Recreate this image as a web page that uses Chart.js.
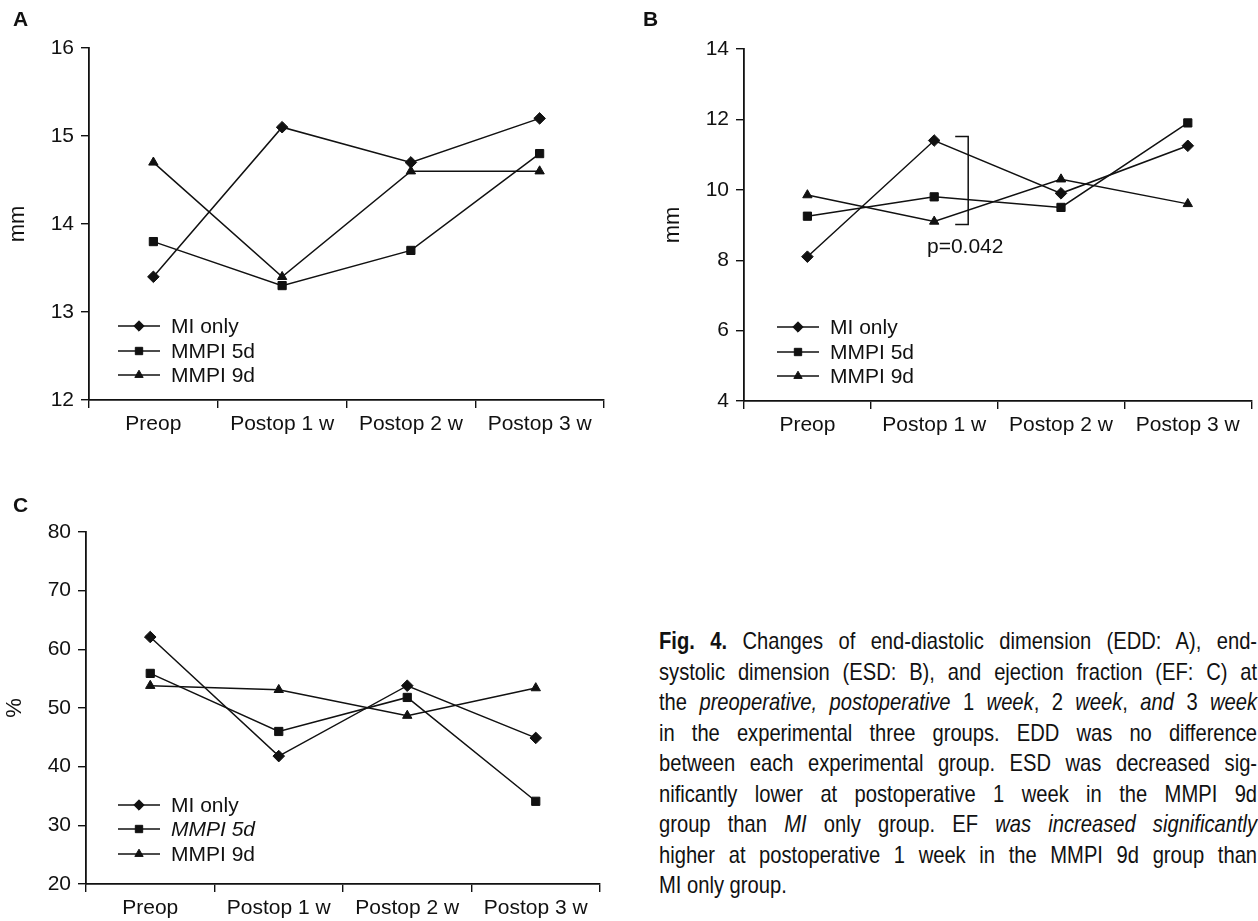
<!DOCTYPE html>
<html>
<head>
<meta charset="utf-8">
<script src="https://cdn.jsdelivr.net/npm/chart.js@4.4.1/dist/chart.umd.min.js"></script>
<style>
  html, body { margin: 0; padding: 0; background: #fff; }
  body { width: 1258px; height: 921px; position: relative; overflow: hidden; }
  canvas { position: absolute; }
  #caption {
    position: absolute; left: 659px; top: 626px; width: 598px;
    font-family: "Liberation Sans", Arial, Helvetica, sans-serif;
    font-size: 24px; line-height: 30.5px; color: #111;
  }
  /* narrow setting: each line is laid out wide, then compressed horizontally */
  #caption div {
    width: 712px; transform: scaleX(0.84); transform-origin: 0 0;
    text-align: justify; text-align-last: justify; white-space: nowrap;
  }
  #caption div.last { text-align-last: left; }
</style>
</head>
<body>
<canvas id="chartA" width="630" height="460" style="left:0;top:0;width:630px;height:460px"></canvas>
<canvas id="chartB" width="628" height="460" style="left:630px;top:0;width:628px;height:460px"></canvas>
<canvas id="chartC" width="630" height="461" style="left:0;top:460px;width:630px;height:461px"></canvas>

<div id="caption">
  <div><b>Fig. 4.</b> Changes of end-diastolic dimension (EDD: A), end-</div>
  <div>systolic dimension (ESD: B), and ejection fraction (EF: C) at</div>
  <div>the <i>preoperative, postoperative</i> 1 <i>week</i>, 2 <i>week</i>, <i>and</i> 3 <i>week</i></div>
  <div>in the experimental three groups. EDD was no difference</div>
  <div>between each experimental group. ESD was decreased sig-</div>
  <div>nificantly lower at postoperative 1 week in the MMPI 9d</div>
  <div>group than <i>MI</i> only group. EF <i>was increased significantly</i></div>
  <div>higher at postoperative 1 week in the MMPI 9d group than</div>
  <div class="last">MI only group.</div>
</div>

<script>
// Time points and groups
const categories = ['Preop', 'Postop 1 w', 'Postop 2 w', 'Postop 3 w'];
const groupNames = ['MI only', 'MMPI 5d', 'MMPI 9d'];

// A: end-diastolic dimension (mm)
const eddMiOnly = [13.4, 15.1, 14.7, 15.2];
const eddMmpi5d = [13.8, 13.3, 13.7, 14.8];
const eddMmpi9d = [14.7, 13.4, 14.6, 14.6];

// B: end-systolic dimension (mm)
const esdMiOnly = [8.1, 11.4, 9.9, 11.25];
const esdMmpi5d = [9.25, 9.8, 9.5, 11.9];
const esdMmpi9d = [9.85, 9.1, 10.3, 9.6];
const esdPValue = 'p=0.042';

// C: ejection fraction (%)
const efMiOnly = [62.1, 41.8, 53.8, 44.9];
const efMmpi5d = [55.9, 46.0, 51.8, 34.1];
const efMmpi9d = [53.8, 53.1, 48.7, 53.4];

// Axis ranges
const eddAxis = { min: 12, max: 16, step: 1 };
const esdAxis = { min: 4, max: 14, step: 2 };
const efAxis = { min: 20, max: 80, step: 10 };

const INK = '#111';
const FONT = '"Liberation Sans", Arial, Helvetica, sans-serif';
const markerStyles = ['rectRot', 'rect', 'triangle'];
const markerRadii = [5.8, 5.8, 5.4];

function makeDatasets(series) {
  return series.map((values, i) => ({
    label: groupNames[i],
    data: values,
    borderColor: INK,
    borderWidth: 1.5,
    backgroundColor: INK,
    pointStyle: markerStyles[i],
    pointRadius: markerRadii[i],
    pointBackgroundColor: INK,
    pointBorderColor: INK,
    pointBorderWidth: 1,
    tension: 0,
    fill: false
  }));
}

// Panel letter, in-plot legend and the optional significance bracket
const panelDecor = {
  id: 'panelDecor',
  afterDraw(chart, args, o) {
    const { ctx, chartArea: a } = chart;
    ctx.save();
    ctx.fillStyle = INK;
    ctx.strokeStyle = INK;

    ctx.font = 'bold 21px ' + FONT;
    ctx.textAlign = 'left';
    ctx.textBaseline = 'middle';
    ctx.fillText(o.letter, o.letterX, o.letterY);

    chart.data.datasets.forEach((ds, i) => {
      const y = a.bottom - o.legendRows[i];
      const x0 = a.left + o.legendDx;
      const x1 = x0 + 42;
      ctx.lineWidth = ds.borderWidth;
      ctx.beginPath();
      ctx.moveTo(x0, y);
      ctx.lineTo(x1, y);
      ctx.stroke();
      ctx.lineWidth = 1;
      Chart.helpers.drawPoint(ctx, {
        pointStyle: ds.pointStyle, radius: ds.pointRadius - 0.6, rotation: 0, borderWidth: 1
      }, (x0 + x1) / 2, y);
      const italic = o.italicLegend && o.italicLegend.includes(i);
      ctx.font = (italic ? 'italic ' : '') + '21px ' + FONT;
      ctx.textBaseline = 'middle';
      ctx.fillText(ds.label, x1 + 11, y + 1);
    });

    if (o.bracket) {
      const b = o.bracket;
      const xs = chart.scales.x, ys = chart.scales.y;
      const cx = xs.getPixelForValue(b.index);
      const x = cx + 34;
      const yTop = ys.getPixelForValue(chart.data.datasets[b.upper].data[b.index]) - 4;
      const yBot = ys.getPixelForValue(chart.data.datasets[b.lower].data[b.index]) + 3;
      ctx.lineWidth = 1.5;
      ctx.beginPath();
      ctx.moveTo(x - 13, yTop);
      ctx.lineTo(x, yTop);
      ctx.lineTo(x, yBot);
      ctx.lineTo(x - 13, yBot);
      ctx.stroke();
      ctx.font = '21px ' + FONT;
      ctx.textAlign = 'center';
      ctx.textBaseline = 'alphabetic';
      ctx.fillText(b.label, cx + 31, yBot + 29);
    }
    ctx.restore();
  }
};

function buildChart(id, series, axis, unit, geo, decor) {
  const canvas = document.getElementById(id);
  return new Chart(canvas, {
    type: 'line',
    data: { labels: categories, datasets: makeDatasets(series) },
    plugins: [panelDecor],
    options: {
      responsive: false,
      animation: false,
      devicePixelRatio: 1,
      layout: { padding: { top: geo.top, right: canvas.width - geo.right, left: 0, bottom: 0 } },
      plugins: {
        legend: { display: false },
        tooltip: { enabled: false },
        panelDecor: decor
      },
      scales: {
        x: {
          type: 'category',
          offset: true,
          grid: { display: true, offset: true, drawOnChartArea: false, drawTicks: true, tickLength: 8, color: INK, lineWidth: 1.4 },
          border: { display: true, color: INK, width: 1.8 },
          ticks: { color: INK, font: { family: FONT, size: 21 }, padding: 4, maxRotation: 0, autoSkip: false },
          afterFit(s) { s.height = canvas.height - geo.bottom; }
        },
        y: {
          min: axis.min, max: axis.max,
          grid: { display: true, drawOnChartArea: false, drawTicks: true, tickLength: 8, color: INK, lineWidth: 1.4 },
          border: { display: true, color: INK, width: 1.8 },
          ticks: { stepSize: axis.step, color: INK, font: { family: FONT, size: 21 }, padding: 7 },
          title: { display: true, text: unit, color: INK, font: { family: FONT, size: 22 }, padding: { top: geo.titlePad, bottom: 0 } },
          afterFit(s) { s.width = geo.left; }
        }
      }
    }
  });
}

buildChart('chartA', [eddMiOnly, eddMmpi5d, eddMmpi9d], eddAxis, 'mm',
  { left: 89, right: 604, top: 48, bottom: 400, titlePad: 5 },
  { letter: 'A', letterX: 13, letterY: 20, legendDx: 29, legendRows: [74, 49, 25] });

buildChart('chartB', [esdMiOnly, esdMmpi5d, esdMmpi9d], esdAxis, 'mm',
  { left: 114, right: 627, top: 49, bottom: 401, titlePad: 30 },
  { letter: 'B', letterX: 13, letterY: 20, legendDx: 33, legendRows: [74, 49, 25],
    bracket: { index: 1, upper: 0, lower: 2, label: esdPValue } });

buildChart('chartC', [efMiOnly, efMmpi5d, efMmpi9d], efAxis, '%',
  { left: 86, right: 600, top: 72, bottom: 424, titlePad: 2 },
  { letter: 'C', letterX: 13, letterY: 46, legendDx: 32, legendRows: [79, 55, 30], italicLegend: [1] });
</script>
</body>
</html>
